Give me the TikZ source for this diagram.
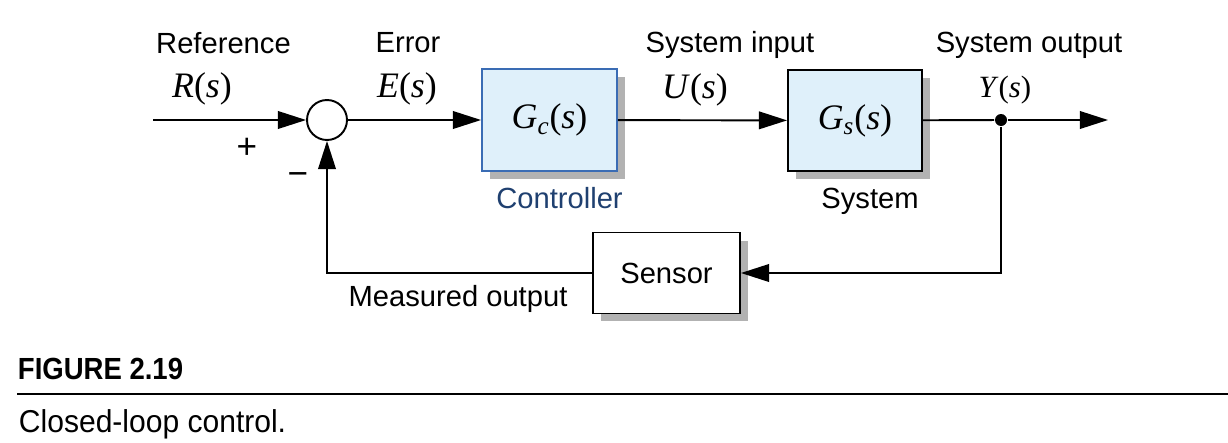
\documentclass[tikz,border=0pt]{standalone}
\usepackage{graphicx}
\usepackage{fontspec}
\setmainfont{Liberation Sans}
\newfontfamily\tms{Liberation Serif}
\usetikzlibrary{arrows.meta,shadows}
\definecolor{ctrlblue}{RGB}{58,108,180}
\definecolor{ctrlfill}{RGB}{223,240,250}
\definecolor{ctrltext}{RGB}{31,64,112}
\newcommand\lbl{\fontsize{16.6pt}{20pt}\selectfont}
\newcommand\sig[2][20.4pt]{{\fontsize{#1}{#1}\selectfont\tms\itshape #2\/\upshape(\itshape s\/\upshape)}}
\begin{document}
\begin{tikzpicture}[x=0.02cm, y=-0.02cm, line width=1.1pt,
    >={Triangle[length=16pt,width=10pt]},
    blk/.style={draw, inner sep=0pt,
      drop shadow={shadow xshift=0.16cm, shadow yshift=-0.16cm, fill=black!30, opacity=1}},
    txt/.style={anchor=base, inner sep=0pt}]
  \useasboundingbox (0,0) rectangle (1228,443);
  % blocks
  \node[circle, draw, minimum size=0.8cm, inner sep=0pt] (sum) at (327,120) {};
  \node[blk, draw=ctrlblue, fill=ctrlfill, minimum width=2.7cm, minimum height=2.04cm] (gc) at (549.5,120) {\sig{G\textsubscript{c}}};
  \node[blk, fill=ctrlfill, minimum width=2.68cm, minimum height=2.02cm] (gs) at (855,120.5) {\sig{G\textsubscript{s}}};
  \node[blk, fill=white, minimum width=2.94cm, minimum height=1.62cm] (sens) at (666.5,273) {\lbl Sensor};
  \node[circle, fill, inner sep=0pt, minimum size=0.24cm] (tap) at (1001,120) {};
  \coordinate (in) at (153,120);
  \coordinate (out) at (1108,120);
  % connectors
  \draw[->] (in) -- (sum);
  \draw[->] (sum) -- (gc);
  \draw[->] (gc) -- (gs);
  \draw (gs) -- (tap);
  \draw[->] (tap) -- (out);
  \draw[->] (tap) |- (sens);
  \draw[->] (sens) -| (sum);
  % labels
  \node[txt] (reflbl) at (223.5,53) {\lbl Reference};
  \node[txt] (rs) at (202,97) {\sig{R}};
  \node[txt] (errlbl) at (408,52) {\lbl Error};
  \node[txt] (es) at (407,97) {\sig{E}};
  \node[txt] (inlbl) at (730,52) {\lbl System input};
  \node[txt] (us) at (695,98) {\sig{U}};
  \node[txt] (outlbl) at (1029,52) {\lbl System output};
  \node[txt] (ys) at (1005,97) {\sig[17.6pt]{Y}};
  \node (plus) at (247,148) {\fontsize{20pt}{20pt}\selectfont +};
  \node (minus) at (298,179) {\fontsize{20pt}{20pt}\selectfont −};
  \node[txt, text=ctrltext] (ctrllbl) at (559.5,208) {\lbl Controller};
  \node[txt] (syslbl) at (870,208) {\lbl System};
  \node[txt] (measlbl) at (458,306) {\lbl Measured output};
  % caption
  \node[anchor=base west, inner sep=0pt] (fig) at (17,379) {\fontsize{17.4pt}{20pt}\selectfont\bfseries\scalebox{0.9}[1]{FIGURE 2.19}};
  \draw (17,394) -- (1228,394);
  \node[anchor=base west, inner sep=0pt] (cap) at (18,432) {\fontsize{18pt}{20pt}\selectfont\scalebox{0.95}[1]{Closed-loop control.}};
\end{tikzpicture}
\end{document}
